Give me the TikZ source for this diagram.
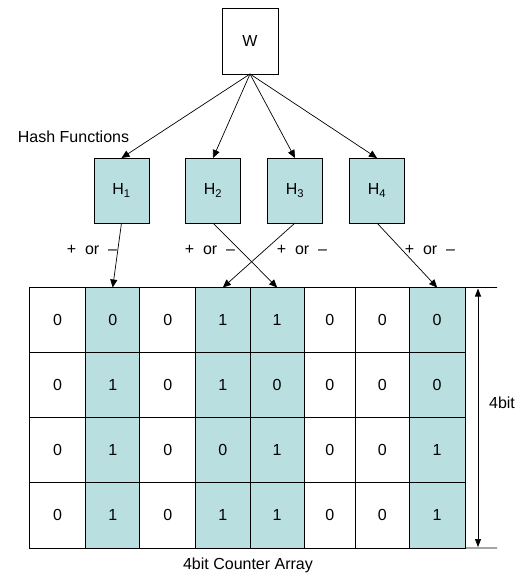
\documentclass[tikz,border=0pt]{standalone}
\usepackage{fontspec}
\setmainfont{Liberation Sans}
\usetikzlibrary{arrows.meta}
\definecolor{hf}{HTML}{BADFE1}
\begin{document}
\begin{tikzpicture}[x=1pt,y=-1pt,
  every node/.style={font=\fontsize{16}{19}\selectfont},
  box/.style={draw, line width=0.8pt, inner sep=0pt, outer sep=0pt, minimum width=55pt, minimum height=65pt},
  hbox/.style={box, fill=hf},
  cell/.style={draw, line width=0.8pt, inner sep=0pt, outer sep=0pt},
  arr/.style={line width=0.7pt, -{Triangle[length=8pt,width=7pt]}},
  darr/.style={line width=0.7pt, {Triangle[length=8pt,width=6pt]}-{Triangle[length=8pt,width=6pt]}}]
\useasboundingbox (0,0) rectangle (532,576);
\node[box, minimum width=56pt, minimum height=66pt] (W) at (250,41) {W};
\node[hbox] (H1) at (121.5,190.5) {H\textsubscript{1}};
\node[hbox] (H2) at (213,190.5) {H\textsubscript{2}};
\node[hbox] (H3) at (295,190.5) {H\textsubscript{3}};
\node[hbox] (H4) at (377,190.5) {H\textsubscript{4}};
\node (hash) at (73.5,137) {Hash Functions};
\foreach \k in {1,2,3,4} \draw[arr] (W.south) -- (H\k.north);
\def\colL{{29.5,85.7,139.7,195.7,250,304.3,355.3,409.3}}
\def\colR{{85.7,139.7,195.7,250,304.3,355.3,409.3,465}}
\def\shade{{0,1,0,1,1,0,0,1}}
\foreach \vals [count=\r] in {{0,0,0,1,1,0,0,0},{0,1,0,1,0,0,0,0},{0,1,0,0,1,0,0,1},{0,1,0,1,1,0,0,1}}{
  \foreach \v [count=\c] in \vals {
    \pgfmathsetmacro\xl{\colL[\c-1]}
    \pgfmathsetmacro\xr{\colR[\c-1]}
    \pgfmathsetmacro\w{\xr-\xl}
    \pgfmathsetmacro\xc{(\xl+\xr)/2}
    \pgfmathsetmacro\yc{287.5+65.125*(\r-1)+32.56}
    \pgfmathtruncatemacro\s{\shade[\c-1]}
    \ifnum\s=1 \def\fc{hf}\else\def\fc{white}\fi
    \node[cell, fill=\fc, minimum width=\w pt, minimum height=65.125pt] (c\r\c) at (\xc,\yc) {\v};
  }
}
\coordinate (tr) at (497,287.5);
\coordinate (br) at (497,548);
\draw[line width=0.8pt] (c18.north east) -- (tr);
\draw[line width=0.8pt] (c48.south east) -- (br);
\coordinate (at) at (478,288.5);
\coordinate (ab) at (478,547);
\draw[darr] (at) -- (ab);
\node (fb) at (502,403) {4bit};
\node (cap) at (248,565) {4bit Counter Array};
\draw[arr] (H1.south) -- (c12.north);
\draw[arr] (H2.south) -- (c15.north);
\draw[arr] (H3.south) -- (c14.north);
\draw[arr] (H4.south) -- (c18.north);
\node (p1) at (92,250) {+~~or~~–};
\node (p2) at (210,250) {+~~or~~–};
\node (p3) at (302,250) {+~~or~~–};
\node (p4) at (430,250) {+~~or~~–};
\end{tikzpicture}
\end{document}
